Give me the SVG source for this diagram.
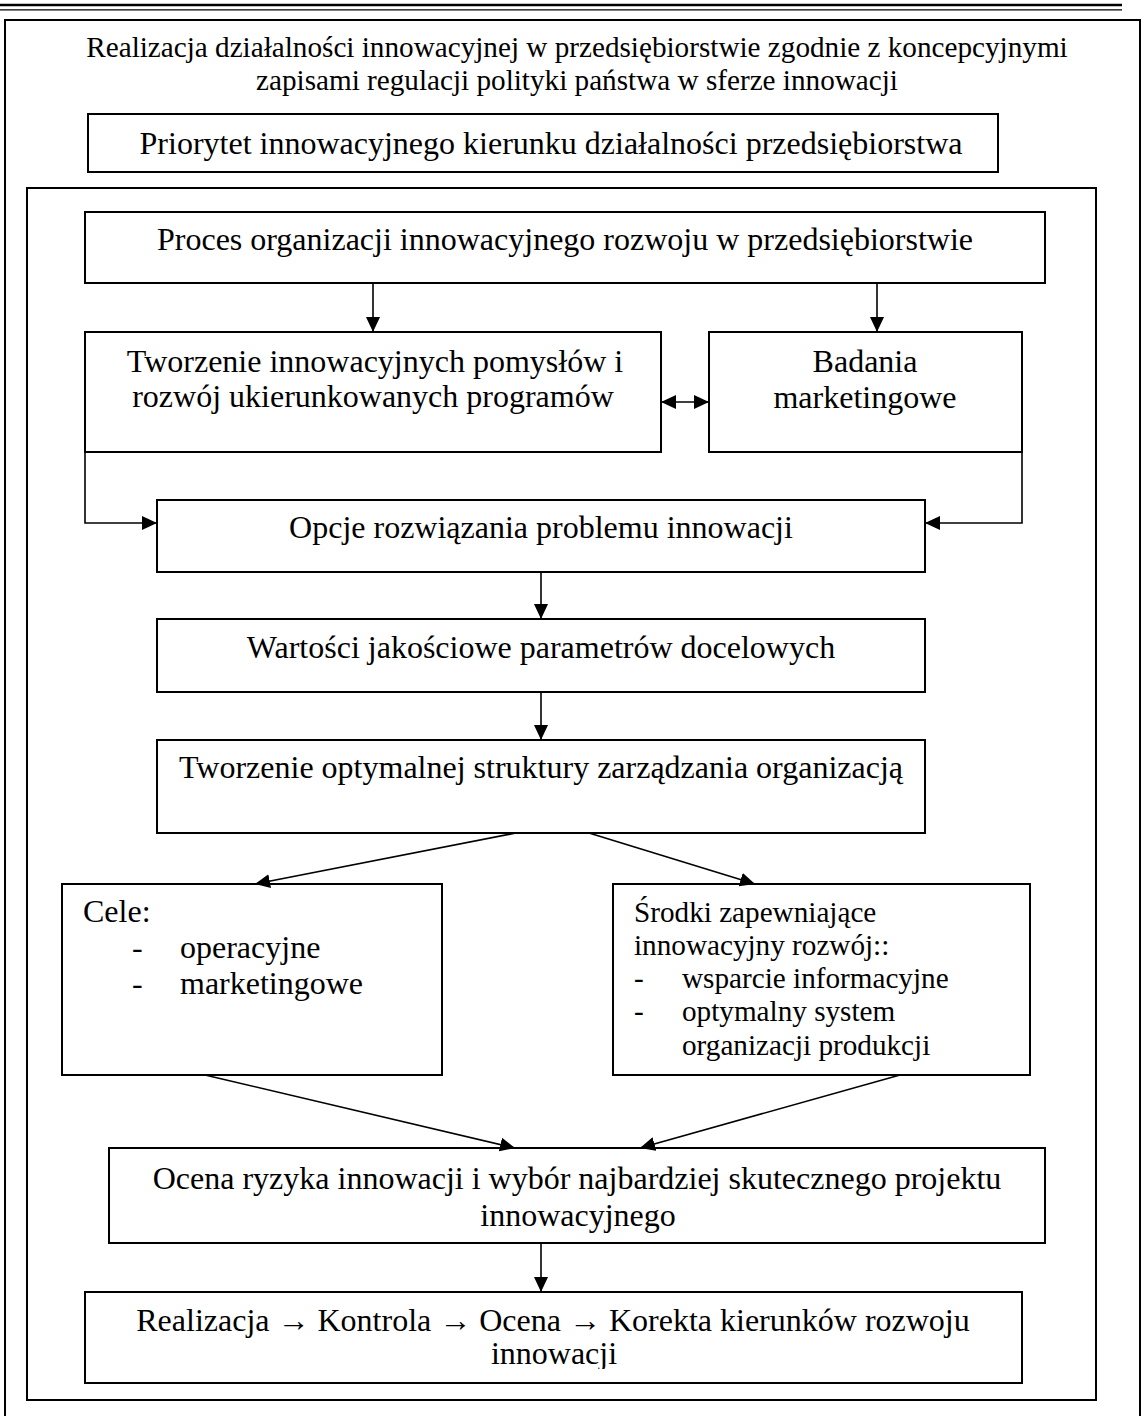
<svg xmlns="http://www.w3.org/2000/svg" width="1143" height="1416" viewBox="0 0 1143 1416">
<style>
text{font-family:"Liberation Serif","Times New Roman",serif;font-size:32px;fill:#000}
.t29{font-size:29.2px}
.box{fill:#fff;stroke:#000;stroke-width:2}
.c{text-anchor:middle}
.con{fill:none;stroke:#000;stroke-width:1.6}
</style>
<defs>
<marker id="ah" markerUnits="userSpaceOnUse" markerWidth="16" markerHeight="14" refX="15" refY="7" orient="auto-start-reverse">
<path d="M0,0 L15,7 L0,14 z" fill="#000"/>
</marker>
<clipPath id="clipReal"><rect x="85" y="1292" width="937" height="77"/></clipPath>
</defs>
<rect width="1143" height="1416" fill="#fff"/>
<g id="header-rule">
<line x1="0" y1="5" x2="1122" y2="5" stroke="#000" stroke-width="2.6"/>
<line x1="0" y1="9.8" x2="1122" y2="9.8" stroke="#000" stroke-width="1.2"/>
</g>
<g id="outer-frame">
<path d="M5,1416 V20 H1140 V1416" fill="none" stroke="#000" stroke-width="2"/>
<text class="t29 c" x="577" y="57">Realizacja działalności innowacyjnej w przedsiębiorstwie zgodnie z koncepcyjnymi</text>
<text class="t29 c" x="577" y="90">zapisami regulacji polityki państwa w sferze innowacji</text>
</g>
<g id="node-priorytet">
<rect class="box" x="88" y="114" width="910" height="58"/>
<text class="c" x="551" y="154">Priorytet innowacyjnego kierunku działalności przedsiębiorstwa</text>
</g>
<g id="inner-frame">
<rect x="27" y="188" width="1069" height="1212" fill="none" stroke="#000" stroke-width="2"/>
</g>
<g id="node-proces">
<rect class="box" x="85" y="212" width="960" height="71"/>
<text class="c" x="565" y="250">Proces organizacji innowacyjnego rozwoju w przedsiębiorstwie</text>
</g>
<g id="node-tworzenie-pomyslow">
<rect class="box" x="85" y="332" width="576" height="120"/>
<text class="c" x="375" y="372">Tworzenie innowacyjnych pomysłów i</text>
<text class="c" x="373" y="407">rozwój ukierunkowanych programów</text>
</g>
<g id="node-badania">
<rect class="box" x="709" y="332" width="313" height="120"/>
<text class="c" x="865" y="372">Badania</text>
<text class="c" x="865" y="408">marketingowe</text>
</g>
<g id="node-opcje">
<rect class="box" x="157" y="500" width="768" height="72"/>
<text class="c" x="541" y="538">Opcje rozwiązania problemu innowacji</text>
</g>
<g id="node-wartosci">
<rect class="box" x="157" y="619" width="768" height="73"/>
<text class="c" x="541" y="658">Wartości jakościowe parametrów docelowych</text>
</g>
<g id="node-struktura">
<rect class="box" x="157" y="740" width="768" height="93"/>
<text class="c" x="541" y="778">Tworzenie optymalnej struktury zarządzania organizacją</text>
</g>
<g id="node-cele">
<rect class="box" x="62" y="884" width="380" height="191"/>
<text x="83" y="922">Cele:</text>
<text x="132" y="958">-</text>
<text x="180" y="958">operacyjne</text>
<text x="132" y="994">-</text>
<text x="180" y="994">marketingowe</text>
</g>
<g id="node-srodki">
<rect class="box" x="613" y="884" width="417" height="191"/>
<g class="t29">
<text class="t29" x="634" y="922">Środki zapewniające</text>
<text class="t29" x="634" y="955">innowacyjny rozwój::</text>
<text class="t29" x="634" y="988">-</text>
<text class="t29" x="682" y="988">wsparcie informacyjne</text>
<text class="t29" x="634" y="1021">-</text>
<text class="t29" x="682" y="1021">optymalny system</text>
<text class="t29" x="682" y="1055">organizacji produkcji</text>
</g>
</g>
<g id="node-ocena">
<rect class="box" x="109" y="1148" width="936" height="95"/>
<text class="c" x="577" y="1189">Ocena ryzyka innowacji i wybór najbardziej skutecznego projektu</text>
<text class="c" x="578" y="1226">innowacyjnego</text>
</g>
<g id="node-realizacja">
<rect class="box" x="85" y="1292" width="937" height="91"/>
<g clip-path="url(#clipReal)">
<text class="c" x="553" y="1331">Realizacja → Kontrola → Ocena → Korekta kierunków rozwoju</text>
<text class="c" x="554" y="1364">innowacji</text>
</g>
</g>
<g id="connectors">
<line class="con" x1="373" y1="283" x2="373" y2="332" marker-end="url(#ah)"/>
<line class="con" x1="877" y1="283" x2="877" y2="332" marker-end="url(#ah)"/>
<line class="con" x1="661" y1="402" x2="709" y2="402" marker-start="url(#ah)" marker-end="url(#ah)"/>
<polyline class="con" points="85,452 85,523 157,523" marker-end="url(#ah)"/>
<polyline class="con" points="1022,452 1022,523 925,523" marker-end="url(#ah)"/>
<line class="con" x1="541" y1="572" x2="541" y2="619" marker-end="url(#ah)"/>
<line class="con" x1="541" y1="692" x2="541" y2="740" marker-end="url(#ah)"/>
<line class="con" x1="516" y1="833" x2="255" y2="884" marker-end="url(#ah)"/>
<line class="con" x1="589" y1="833" x2="755" y2="884" marker-end="url(#ah)"/>
<line class="con" x1="205" y1="1075" x2="515" y2="1148" marker-end="url(#ah)"/>
<line class="con" x1="900" y1="1075" x2="640" y2="1148" marker-end="url(#ah)"/>
<line class="con" x1="541" y1="1243" x2="541" y2="1292" marker-end="url(#ah)"/>
</g>
</svg>
